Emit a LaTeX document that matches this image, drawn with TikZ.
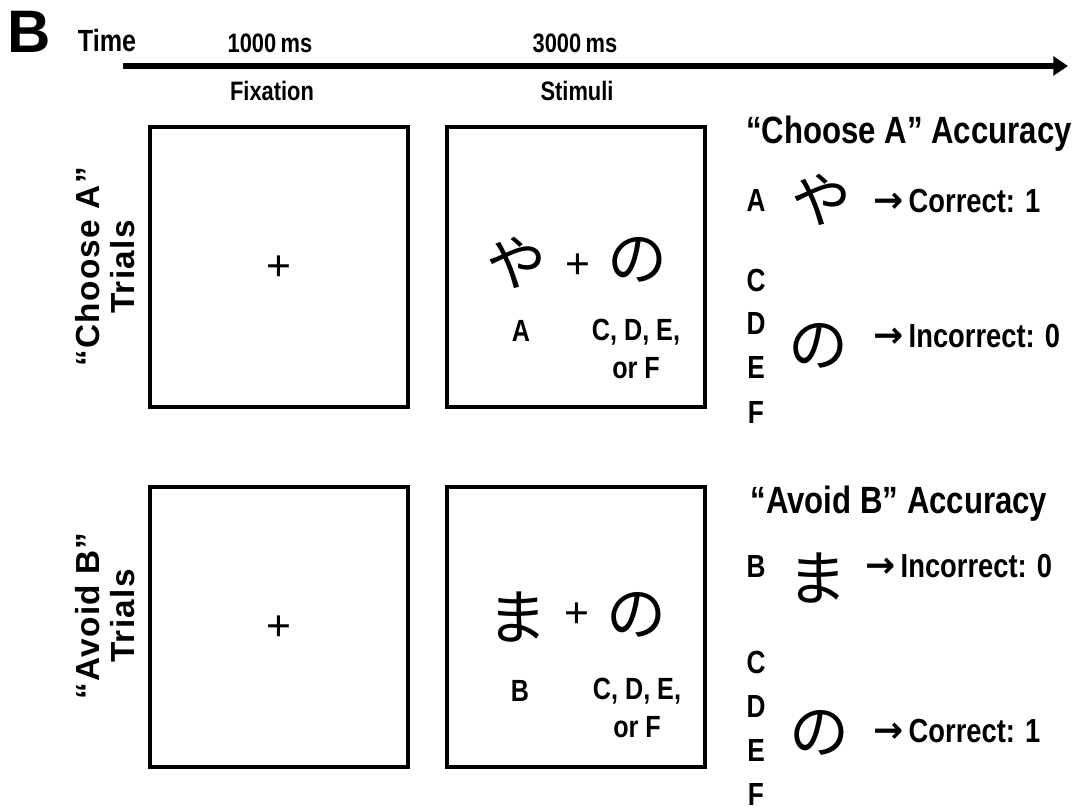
\documentclass[tikz,border=0pt]{standalone}
\usepackage{fontspec}
\setmainfont{Liberation Sans}
\newfontfamily\nar[FakeStretch=0.82]{Liberation Sans}
\newfontfamily\wid[LetterSpace=4]{Liberation Sans}
\newfontfamily\jp{Noto Sans CJK JP}
\newfontfamily\arr{DejaVu Sans}
\newcommand{\rarr}{{\arr\bfseries\fontsize{27}{27}\selectfont →}}
\usetikzlibrary{arrows.meta}
\begin{document}
\begin{tikzpicture}[x=0.75pt,y=-0.75pt,
  every node/.style={inner sep=0pt, outer sep=0pt},
  box/.style={draw, line width=2.6pt, minimum width=193.5pt, minimum height=210pt},
  timeline/.style={line width=4pt, -{Triangle[length=11pt,width=14pt]}},
  hdr/.style={font=\nar\bfseries\fontsize{20}{22}\selectfont},
  timelbl/.style={font=\nar\bfseries\fontsize{23}{26}\selectfont},
  stimlbl/.style={font=\nar\bfseries\fontsize{23}{28}\selectfont, align=center},
  title/.style={font=\nar\bfseries\fontsize{28.5}{32}\selectfont},
  letter/.style={font=\nar\bfseries\fontsize{24}{28}\selectfont},
  result/.style={font=\nar\bfseries\fontsize{25}{28}\selectfont, anchor=west},
  side/.style={font=\wid\bfseries\fontsize{25}{26}\selectfont, align=center, rotate=90},
  kana/.style={font=\jp\fontsize{45}{45}\selectfont},
  cross/.style={font=\fontsize{32}{32}\selectfont},
]
\useasboundingbox (0,0) rectangle (1086,812);

% header
\node[font=\bfseries\fontsize{45}{45}\selectfont] (panel) at (29,32) {B};
\node[timelbl] (time) at (107,41) {Time};
\node[hdr] (t1000) at (270,43) {1000\,ms};
\node[hdr] (t3000) at (575,43) {3000\,ms};
\coordinate (ts) at (123,66);
\coordinate (te) at (1068,66);
\draw[timeline] (ts) -- (te);
\node[hdr] (fix) at (272,91) {Fixation};
\node[hdr] (stim) at (577,91) {Stimuli};

% side labels
\node[side] (sideA) at (105,267) {“Choose A”\\Trials};
\node[side] (sideB) at (105,616) {“Avoid B”\\Trials};

% boxes, top row
\node[box] (fixA) at (279,267) {};
\node[box] (stimA) at (576,267) {};
\node[cross] (crossA) at (279,268) {+};
\node[kana] (yaA) at (516,263) {や};
\node[cross] (crossSA) at (578,266) {+};
\node[kana] (noA) at (637,260) {の};
\node[stimlbl] (labA) at (521,331) {A};
\node[stimlbl] (labCA) at (636,349) {C, D, E,\\or F};

% boxes, bottom row
\node[box] (fixB) at (279,627) {};
\node[box] (stimB) at (576,627) {};
\node[cross] (crossB) at (279,628) {+};
\node[kana] (maB) at (517,617) {ま};
\node[cross] (crossSB) at (577,615) {+};
\node[kana] (noB) at (636,615) {の};
\node[stimlbl] (labB) at (520,691) {B};
\node[stimlbl] (labCB) at (637,708) {C, D, E,\\or F};

% right column, top
\node[title] (titA) at (909,134) {“Choose A” Accuracy};
\node[letter] (rA) at (756,200) {A};
\node[kana] (ryaA) at (821,200) {や};
\node[result] (resA1) at (873,201) {\rarr\,Correct: 1};
\node[letter] (rC1) at (756,280) {C};
\node[letter] (rD1) at (756,323) {D};
\node[letter] (rE1) at (756,367) {E};
\node[letter] (rF1) at (756,412) {F};
\node[kana] (rnoA) at (818,346) {の};
\node[result] (resA2) at (873,336) {\rarr\,Incorrect: 0};

% right column, bottom
\node[title] (titB) at (899,504) {“Avoid B” Accuracy};
\node[letter] (rB) at (756,566) {B};
\node[kana] (rmaB) at (817,578) {ま};
\node[result] (resB1) at (865,566) {\rarr\,Incorrect: 0};
\node[letter] (rC2) at (756,662) {C};
\node[letter] (rD2) at (756,706) {D};
\node[letter] (rE2) at (756,750) {E};
\node[letter] (rF2) at (756,794) {F};
\node[kana] (rnoB) at (819,733) {の};
\node[result] (resB2) at (873,731) {\rarr\,Correct: 1};
\end{tikzpicture}
\end{document}
